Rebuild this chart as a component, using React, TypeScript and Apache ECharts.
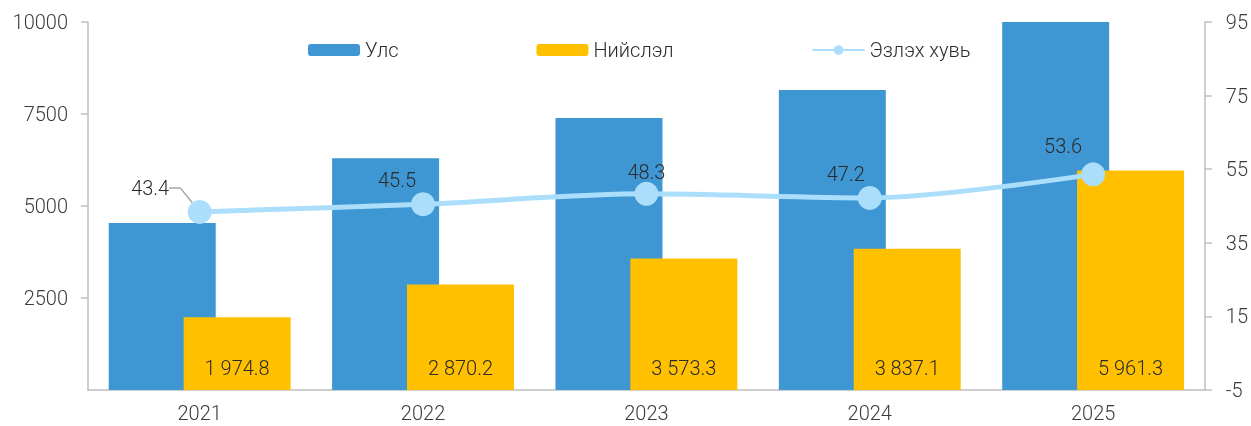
import React, { useEffect, useRef } from "react";
import * as echarts from "echarts";

const years = ["2021", "2022", "2023", "2024", "2025"];
const national = [4538, 6300, 7391, 8150, 10030];
const capital = [1974.8, 2870.2, 3573.3, 3837.1, 5961.3];
const share = [43.4, 45.5, 48.3, 47.2, 53.6];
const seriesNames = ["Улс", "Нийслэл", "Эзлэх хувь"];

const FONT = "Roboto";
const TEXT = "#2b2b2b";
const AXIS_TEXT = "#3c3c3c";
const AXIS_LINE = "#BFBFBF";

const fmt = (v: number) => {
  const [i, d] = v.toFixed(1).split(".");
  return i.replace(/\B(?=(\d{3})+(?!\d))/g, " ") + "." + d;
};

export default function App() {
  const ref = useRef<HTMLDivElement>(null);
  useEffect(() => {
    if (!ref.current) return;
    const chart = echarts.init(ref.current, undefined, { renderer: "svg" });
    const labelShift: Record<number, [number, number]> = {
      0: [-45, 0],
      1: [-26, 0],
      2: [0, 2],
      3: [-24, 0],
      4: [-30, -4],
    };
    chart.setOption({
      animation: false,
      textStyle: { fontFamily: FONT, fontWeight: 300 },
      grid: { left: 88, right: 45, top: 22, bottom: 36, containLabel: false },
      legend: {
        left: 303,
        top: 35,
        itemWidth: 52,
        itemHeight: 12,
        itemGap: 138,
        textStyle: { fontFamily: FONT, fontWeight: 300, fontSize: 20, color: TEXT },
        data: seriesNames,
      },
      xAxis: {
        type: "category",
        data: years,
        axisLine: { lineStyle: { color: AXIS_LINE, width: 1.5 } },
        axisTick: { show: false },
        axisLabel: {
          fontFamily: FONT,
          fontWeight: 300,
          fontSize: 20,
          lineHeight: 16,
          color: AXIS_TEXT,
          margin: 15,
        },
      },
      yAxis: [
        {
          type: "value",
          min: 0,
          max: 10000,
          interval: 2500,
          splitLine: { show: false },
          axisLine: { show: true, lineStyle: { color: AXIS_LINE, width: 1.5 } },
          axisTick: { show: true, length: 7, lineStyle: { color: AXIS_LINE, width: 1.5 } },
          axisLabel: {
            showMinLabel: false,
            fontFamily: FONT,
            fontWeight: 300,
            fontSize: 20,
            color: AXIS_TEXT,
            margin: 20,
            formatter: (v: number) => String(v),
          },
        },
        {
          type: "value",
          min: -5,
          max: 95,
          interval: 20,
          splitLine: { show: false },
          axisLine: { show: true, lineStyle: { color: AXIS_LINE, width: 1.5 } },
          axisTick: { show: true, length: 7, lineStyle: { color: AXIS_LINE, width: 1.5 } },
          axisLabel: {
            fontFamily: FONT,
            fontWeight: 300,
            fontSize: 20,
            color: AXIS_TEXT,
            margin: 21,
            formatter: (v: number) => String(v),
          },
        },
      ],
      series: [
        {
          name: seriesNames[0],
          type: "bar",
          data: national,
          barWidth: 107,
          barGap: "-30%",
          itemStyle: { color: "#3E97D3" },
          clip: true,
        },
        {
          name: seriesNames[1],
          type: "bar",
          data: capital,
          barWidth: 107,
          barGap: "-30%",
          itemStyle: { color: "#FFC000" },
          label: {
            show: true,
            position: "insideBottom",
            distance: 12,
            fontFamily: FONT,
            fontWeight: 300,
            fontSize: 20,
            color: TEXT,
            formatter: (p: any) => fmt(p.value),
          },
        },
        {
          name: seriesNames[2],
          type: "line",
          yAxisIndex: 1,
          smooth: 0.3,
          symbol: "circle",
          symbolSize: 24,
          lineStyle: { color: "#ABDEFA", width: 5 },
          itemStyle: { color: "#ABDEFA" },
          data: share.map((v, i) =>
            i === 0
              ? {
                  value: v,
                  labelLine: { show: true, length2: 11, lineStyle: { color: "#A6A6A6", width: 1.5 } },
                  label: { padding: [0, 9, 0, 0] },
                }
              : v
          ),
          label: {
            show: true,
            position: "top",
            distance: 2,
            fontFamily: FONT,
            fontWeight: 300,
            fontSize: 20,
            color: TEXT,
            formatter: (p: any) => p.value.toFixed(1),
          },
          labelLayout: (p: any) => {
            const s = labelShift[p.dataIndex] || [0, 0];
            return { dx: s[0], dy: s[1] };
          },
          z: 5,
        },
      ],
    });
    return () => chart.dispose();
  }, []);
  return (
    <div
      ref={ref}
      style={{ position: "fixed", left: 0, top: 0, width: 1251, height: 426 }}
    />
  );
}
